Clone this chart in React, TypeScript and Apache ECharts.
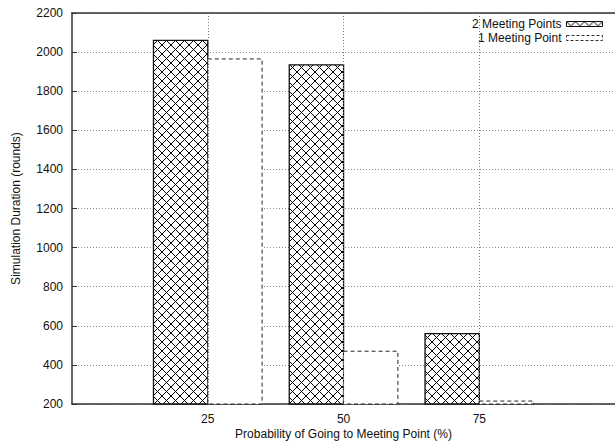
import React, { useEffect, useRef } from 'react';
import * as echarts from 'echarts';

const categories = ['25', '50', '75'];
const seriesNames = ['2 Meeting Points', '1 Meeting Point'];
const twoMeetingPoints = [2060, 1935, 560];
const oneMeetingPoint = [1965, 470, 215];
const yMin = 200;
const yMax = 2200;
const yStep = 200;

const FONT = '"Liberation Sans", Arial, Helvetica, sans-serif';
const EXTRA = 25;

function makeHatch(): string {
  const c = document.createElement('canvas');
  c.width = 9;
  c.height = 9;
  const ctx = c.getContext('2d')!;
  ctx.fillStyle = '#fff';
  ctx.fillRect(0, 0, 9, 9);
  ctx.fillStyle = '#000';
  for (let i = 0; i < 9; i++) {
    ctx.fillRect(i, i, 1, 1);
    ctx.fillRect(8 - i, i, 1, 1);
  }
  return c.toDataURL();
}

export default function App() {
  const ref = useRef<HTMLDivElement>(null);
  useEffect(() => {
    document.body.style.margin = '0';
    document.body.style.overflow = 'hidden';
    if (!ref.current) return;
    const chart = echarts.init(ref.current, undefined, { renderer: 'svg' });
    const hatch = {
      image: makeHatch(),
      repeat: 'repeat',
      imageWidth: 9,
      imageHeight: 9,
    };
    const barW = 0.4;
    const mkBar = (offStart: number, offEnd: number, style: any) =>
      (params: any, api: any) => {
        const x = api.value(0);
        const y = api.value(1);
        const p0 = api.coord([x + offStart, y]);
        const p1 = api.coord([x + offEnd, yMin]);
        return {
          type: 'rect',
          shape: { x: p0[0], y: p0[1], width: p1[0] - p0[0], height: p1[1] - p0[1] },
          style,
        };
      };
    const hatchStyle = { fill: hatch, stroke: '#111', lineWidth: 1.3 };
    const dashStyle = { fill: '#fff', stroke: '#222', lineWidth: 1, lineDash: [4, 3] };
    const xMin = -1;
    const xMax = 2.999;

    chart.setOption({
      animation: false,
      textStyle: { fontFamily: FONT },
      grid: {
        left: 72,
        right: EXTRA,
        top: 13,
        bottom: 38,
        show: false,
        containLabel: false,
        outerBoundsMode: 'none',
      },
      legend: {
        orient: 'vertical',
        right: 12 + EXTRA,
        top: 17,
        padding: 0,
        align: 'right',
        icon: 'rect',
        itemWidth: 36,
        itemHeight: 5,
        itemGap: 0,
        textStyle: { fontSize: 12, color: '#111', fontFamily: FONT, lineHeight: 14 },
        data: [
          { name: seriesNames[0], itemStyle: { color: hatch, borderColor: '#111', borderWidth: 1 } },
          {
            name: seriesNames[1],
            itemStyle: { color: '#fff', borderColor: '#333', borderWidth: 1, borderType: [3, 2] },
          },
        ],
      },
      xAxis: [
        {
          type: 'value',
          min: xMin,
          max: xMax,
          interval: 1,
          name: 'Probability of Going to Meeting Point (%)',
          nameLocation: 'middle',
          nameGap: 24,
          nameMoveOverlap: false,
          nameTextStyle: { fontSize: 12, color: '#111', fontFamily: FONT },
          axisLine: { show: true, onZero: false, lineStyle: { color: '#333', width: 1.5 } },
          axisTick: { show: false },
          splitLine: { show: false },
          axisLabel: {
            fontSize: 12,
            color: '#111',
            margin: 9,
            fontFamily: FONT,
            showMaxLabel: false,
            formatter: (v: number) => {
              const i = Math.round(v);
              return i >= 0 && i < categories.length && Math.abs(v - i) < 1e-6 ? categories[i] : '';
            },
          },
        },
        {
          type: 'value',
          position: 'top',
          min: xMin,
          max: xMax,
          interval: 1,
          axisLine: { show: true, onZero: false, lineStyle: { color: '#333', width: 1.5 } },
          axisTick: { show: false },
          axisLabel: { show: false },
          splitLine: { show: false },
        },
      ],
      yAxis: {
        type: 'value',
        min: yMin,
        max: yMax,
        interval: yStep,
        name: 'Simulation Duration (rounds)',
        nameLocation: 'middle',
        nameGap: 50,
        nameMoveOverlap: false,
        nameTextStyle: { fontSize: 12, color: '#111', fontFamily: FONT },
        axisLine: { show: true, onZero: false, lineStyle: { color: '#333', width: 1.5 } },
        axisTick: { show: true, inside: true, length: 5, lineStyle: { color: '#333' } },
        axisLabel: {
          fontSize: 12,
          color: '#111',
          margin: 9,
          fontFamily: FONT,
          formatter: (v: number) => String(v),
        },
        splitLine: { show: true, lineStyle: { color: '#888', width: 1, type: [1, 2] } },
      },
      series: [
        {
          type: 'line',
          name: 'grid',
          data: [],
          z: 1,
          silent: true,
          markLine: {
            silent: true,
            symbol: 'none',
            label: { show: false },
            lineStyle: { color: '#777', width: 1, type: [1, 2] },
            data: categories.map((_, i) => ({ xAxis: i })),
          },
        },
        {
          type: 'custom',
          name: seriesNames[0],
          z: 3,
          itemStyle: { color: hatch, borderColor: '#111', borderWidth: 1 },
          renderItem: mkBar(-barW, 0, hatchStyle),
          data: twoMeetingPoints.map((v, i) => [i, v]),
        },
        {
          type: 'custom',
          name: seriesNames[1],
          z: 3,
          itemStyle: { color: '#fff', borderColor: '#333', borderWidth: 1, borderType: [3, 2] },
          renderItem: mkBar(0, barW, dashStyle),
          data: oneMeetingPoint.map((v, i) => [i, v]),
        },
      ],
    });
    return () => chart.dispose();
  }, []);
  return <div ref={ref} style={{ width: 615 + EXTRA, height: 442 }} />;
}
